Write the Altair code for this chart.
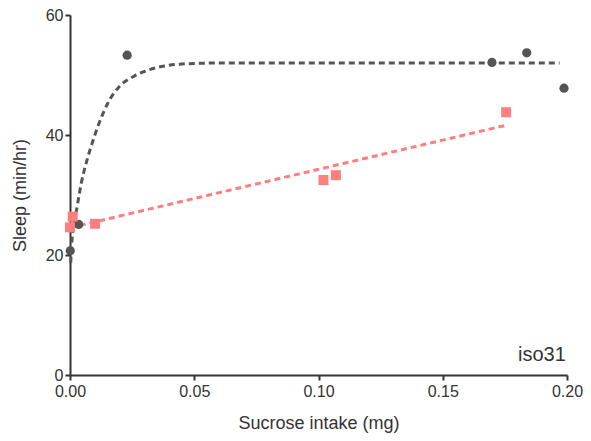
import altair as alt
import pandas as pd

# gray (circle) data
gray_x = [0.0001, 0.0035, 0.0230, 0.1698, 0.1838, 0.1988]
gray_y = [20.7, 25.1, 53.3, 52.1, 53.7, 47.8]

# pink (square) data
pink_x = [0.0000, 0.0011, 0.0101, 0.1020, 0.1070, 0.1755]
pink_y = [24.6, 26.4, 25.2, 32.5, 33.3, 43.8]

# gray fitted curve
curve_x = [0.0003, 0.0008, 0.0029, 0.0045, 0.0065, 0.0085, 0.0112, 0.0152,
           0.0199, 0.0253, 0.0313, 0.0380, 0.0433, 0.0600, 0.1000, 0.1500, 0.1970]
curve_y = [18.7, 22.5, 28.1, 31.9, 35.3, 38.1, 41.4, 45.3,
           48.1, 49.7, 50.8, 51.5, 51.8, 52.0, 52.0, 52.0, 52.0]

label_text = ["iso31"]
label_x = [0.1995]
label_y = [3.3]

gray_df = pd.DataFrame({"x": gray_x, "y": gray_y})
pink_df = pd.DataFrame({"x": pink_x, "y": pink_y})
curve_df = pd.DataFrame({"x": curve_x, "y": curve_y})
label_df = pd.DataFrame({"x": label_x, "y": label_y, "t": label_text})

GRAY = "#555555"
PINK = "#FF7F7F"
FONT = "Liberation Sans"

xscale = alt.Scale(domain=[0, 0.2], nice=False, zero=False)
yscale = alt.Scale(domain=[0, 60], nice=False)

xaxis = alt.Axis(title="Sucrose intake (mg)", values=[0, 0.05, 0.1, 0.15, 0.2], format=".2f",
                 grid=False, labelFlush=False, labelOverlap=False, labelPadding=3,
                 titlePadding=15)
yaxis = alt.Axis(title="Sleep (min/hr)", values=[0, 20, 40, 60], grid=False,
                 labelFlush=False, labelOverlap=False, labelPadding=2, titlePadding=16)

X = alt.X("x:Q", scale=xscale, axis=xaxis)
Y = alt.Y("y:Q", scale=yscale, axis=yaxis)

curve = alt.Chart(curve_df).mark_line(
    color=GRAY, strokeDash=[6, 4], strokeWidth=3, interpolate="monotone"
).encode(x=X, y=Y)

pink_line = alt.Chart(pink_df).transform_regression("x", "y").mark_line(
    color=PINK, strokeDash=[6, 4], strokeWidth=3
).encode(x=X, y=Y)

gray_pts = alt.Chart(gray_df).mark_point(
    shape="circle", filled=True, size=85, color=GRAY, opacity=1
).encode(x=X, y=Y)

pink_pts = alt.Chart(pink_df).mark_point(
    shape="square", filled=True, size=100, color=PINK, opacity=1
).encode(x=X, y=Y)

label = alt.Chart(label_df).mark_text(
    align="right", baseline="middle", fontSize=20, font=FONT, color="#333333"
).encode(x=X, y=Y, text="t:N")

chart = alt.layer(curve, pink_line, gray_pts, pink_pts, label).properties(
    width=497, height=360,
    autosize=alt.AutoSizeParams(type="none"),
    padding={"left": 62, "top": 7, "right": 16, "bottom": 58},
).configure_view(stroke=None).configure_axis(
    domainColor="#333333", domainWidth=2, tickColor="#333333", tickWidth=2, tickSize=5,
    labelFont=FONT, labelFontSize=16, labelColor="#333333",
    titleFont=FONT, titleFontSize=18, titleColor="#333333", titleFontWeight="normal",
)

chart.save("out.html", embed_options={"renderer": "svg", "actions": False})
